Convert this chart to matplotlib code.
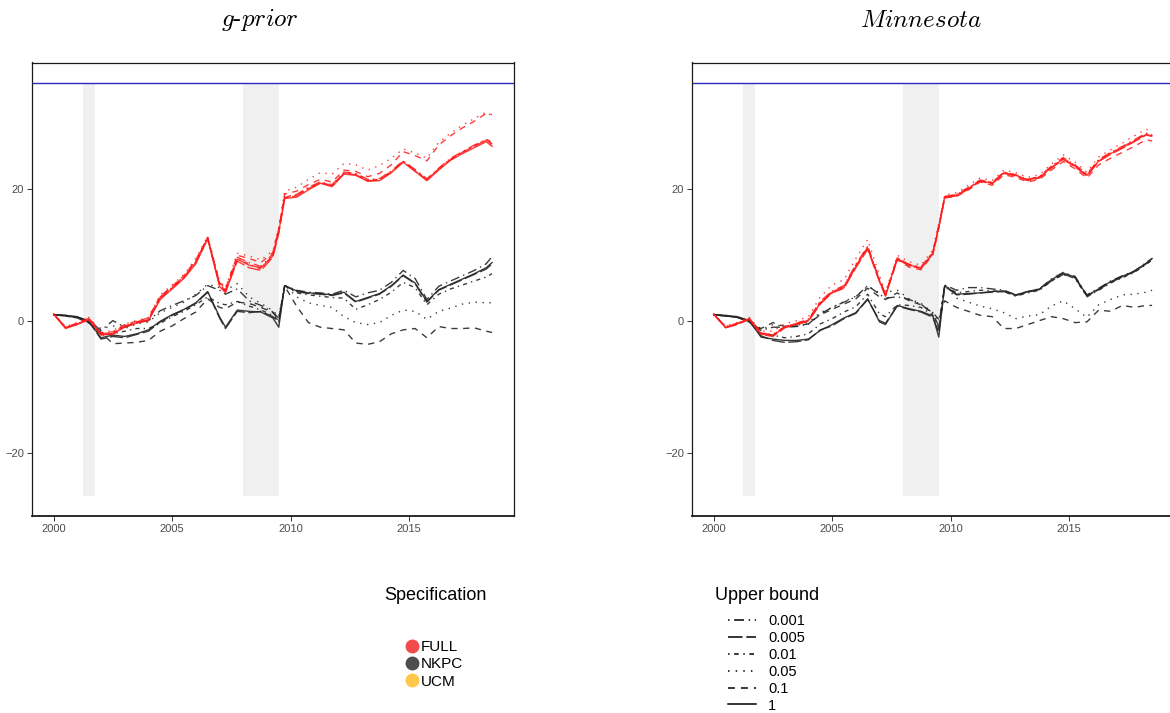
import matplotlib.pyplot as plt
from matplotlib.lines import Line2D

plt.rcParams['font.family'] = ['Liberation Sans', 'DejaVu Sans']
plt.rcParams['mathtext.fontset'] = 'cm'

# time grid (years)
quarters = [2000.0, 2000.5, 2001.0, 2001.5, 2002.0, 2002.5, 2003.0, 2003.5, 2004.0, 2004.5,
            2005.0, 2005.5, 2006.0, 2006.5, 2007.0, 2007.25, 2007.75, 2008.25, 2008.75, 2009.25,
            2009.5, 2009.75, 2010.25, 2010.75, 2011.25, 2011.75, 2012.25, 2012.75, 2013.25, 2013.75,
            2014.25, 2014.75, 2015.25, 2015.75, 2016.25, 2016.75, 2017.25, 2017.75, 2018.25, 2018.5]

bounds = ['0.001', '0.005', '0.01', '0.05', '0.1', '1']
specs = ['FULL', 'NKPC', 'UCM']
recessions = [(2001.25, 2001.75), (2008.0, 2009.5)]
shade_lo, shade_hi = -26.5, 36.0
ref_level = 36.0

# ---- g-prior, FULL ----
gp_full_0001 = [1.0, -1.0, -0.5, 0.3, -2.0, -1.8, -0.8, -0.2, 0.3, 3.6,
                5.0, 6.7, 9.0, 12.6, 5.6, 4.6, 9.6, 8.8, 8.2, 10.1,
                13.8, 18.8, 19.1, 20.2, 21.0, 20.6, 22.5, 22.3, 21.4, 21.5,
                22.7, 24.2, 22.9, 21.5, 23.1, 24.6, 25.6, 26.6, 27.4, 26.8]
gp_full_0005 = [1.0, -1.1, -0.4, 0.1, -2.1, -2.1, -0.9, -0.3, 0.1, 3.4,
                4.9, 6.5, 8.8, 12.5, 5.4, 4.4, 9.0, 8.0, 7.6, 9.6,
                13.2, 18.6, 18.9, 20.0, 20.9, 20.4, 22.3, 22.1, 21.2, 21.3,
                22.5, 24.1, 22.7, 21.3, 23.0, 24.4, 25.5, 26.4, 27.3, 26.7]
gp_full_001 = [1.0, -1.0, -0.6, 0.3, -2.0, -1.9, -0.8, -0.3, 0.2, 3.5,
               5.1, 6.6, 8.9, 12.3, 5.5, 4.5, 9.4, 8.6, 7.8, 9.9,
               13.6, 18.7, 19.0, 20.1, 20.9, 20.5, 22.4, 22.2, 21.3, 21.4,
               22.6, 24.1, 22.8, 21.4, 23.0, 24.5, 25.5, 26.5, 27.5, 27.0]
gp_full_005 = [1.0, -0.9, -0.3, 0.5, -1.8, -1.5, -0.5, 0.0, 0.5, 3.9,
               5.4, 7.0, 9.4, 12.8, 6.0, 5.0, 10.2, 9.8, 9.2, 10.6,
               14.2, 19.6, 20.2, 21.4, 22.4, 22.2, 23.8, 23.6, 22.8, 23.5,
               24.6, 26.0, 25.4, 24.6, 27.0, 28.4, 29.6, 30.6, 31.6, 31.0]
gp_full_01 = [1.0, -1.0, -0.4, 0.4, -1.9, -1.7, -0.6, -0.1, 0.4, 3.7,
              5.2, 6.8, 9.2, 12.6, 5.8, 4.8, 9.9, 9.4, 8.8, 10.3,
              13.9, 19.2, 19.6, 20.6, 21.4, 21.0, 22.8, 22.6, 21.8, 22.3,
              23.6, 25.6, 25.0, 24.2, 26.6, 28.0, 29.2, 30.2, 31.4, 31.2]
gp_full_1 = [1.0, -1.2, -0.6, 0.2, -2.2, -2.0, -1.0, -0.4, 0.0, 3.2,
             4.8, 6.4, 8.6, 12.4, 5.2, 4.2, 9.3, 8.4, 8.0, 9.8,
             13.5, 18.5, 18.7, 19.8, 20.8, 20.3, 22.2, 22.0, 21.1, 21.2,
             22.4, 24.0, 22.6, 21.2, 22.8, 24.3, 25.3, 26.2, 27.1, 26.4]

# ---- g-prior, NKPC ----
gp_nkpc_0001 = [0.9, 0.7, 0.5, 0.0, -1.5, 0.0, -1.0, -0.3, 0.0, 1.5,
                2.3, 3.0, 3.8, 5.3, 4.6, 4.0, 4.8, 3.0, 2.3, 1.3,
                0.3, 5.3, 4.6, 4.3, 4.2, 4.0, 4.6, 3.6, 4.2, 4.6,
                5.8, 7.6, 6.4, 3.2, 5.2, 6.0, 6.8, 7.6, 8.6, 9.7]
gp_nkpc_0005 = [0.9, 0.8, 0.5, -0.2, -2.8, -2.4, -2.6, -2.1, -1.6, -0.2,
                0.8, 1.6, 2.6, 4.3, 0.4, -1.2, 1.4, 1.2, 1.4, 0.6,
                -0.2, 5.3, 4.4, 4.1, 4.0, 3.8, 4.2, 2.8, 3.4, 4.0,
                5.2, 6.8, 5.6, 2.8, 4.6, 5.4, 6.2, 7.0, 7.8, 8.6]
gp_nkpc_001 = [0.9, 0.7, 0.4, -0.3, -2.2, -2.0, -1.6, -1.2, -1.2, -0.4,
               0.6, 1.4, 2.4, 3.6, 2.6, 2.4, 2.9, 2.2, 1.6, 0.8,
               0.0, 5.3, 4.2, 3.9, 3.7, 3.5, 3.4, 1.7, 2.4, 3.2,
               4.3, 5.8, 5.0, 2.4, 4.0, 4.8, 5.4, 6.0, 6.6, 7.1]
gp_nkpc_005 = [0.9, 0.8, 0.5, -0.1, -1.2, -0.8, -1.2, -0.5, -0.2, 1.2,
               2.0, 2.8, 4.0, 5.5, 5.0, 4.6, 5.6, 3.6, 2.6, 1.5,
               0.6, 5.4, 3.6, 2.7, 2.3, 2.0, 0.6, -0.3, -0.6, -0.3,
               0.8, 1.6, 1.4, 0.2, 1.4, 1.9, 2.5, 2.8, 2.7, 2.7]
gp_nkpc_01 = [0.9, 0.7, 0.4, -0.4, -1.8, -3.5, -3.4, -3.3, -3.0, -1.6,
              -0.8, 0.3, 1.3, 3.3, 2.0, 1.8, 2.8, 2.6, 2.0, 1.2,
              0.2, 5.2, 2.2, -0.3, -1.0, -1.2, -1.4, -3.4, -3.6, -3.2,
              -2.0, -1.4, -1.2, -2.6, -0.9, -1.2, -1.2, -1.1, -1.6, -1.8]
gp_nkpc_1 = [0.9, 0.8, 0.6, -0.2, -2.6, -2.2, -2.4, -2.0, -1.4, -0.1,
             0.9, 1.7, 2.7, 4.4, 0.6, -1.0, 1.6, 1.4, 1.3, 0.4,
             -1.0, 5.3, 4.5, 4.2, 4.1, 3.9, 4.3, 2.9, 3.5, 4.1,
             5.3, 6.9, 5.7, 2.9, 4.7, 5.5, 6.3, 7.1, 8.0, 8.8]

# ---- Minnesota, FULL ----
mn_full_0001 = [1.0, -0.9, -0.4, 0.4, -1.9, -2.1, -0.9, -0.4, 0.2, 2.9,
                4.5, 5.3, 8.5, 11.3, 6.2, 4.0, 9.5, 8.5, 8.1, 10.4,
                14.4, 18.8, 19.1, 20.2, 21.3, 20.9, 22.5, 22.1, 21.4, 21.8,
                23.4, 24.7, 23.6, 22.2, 24.4, 25.5, 26.4, 27.4, 28.4, 28.2]
mn_full_0005 = [1.0, -1.1, -0.6, 0.2, -2.1, -2.4, -1.1, -0.6, -0.1, 2.5,
                4.2, 4.9, 8.0, 10.8, 5.9, 3.7, 9.3, 8.3, 7.9, 10.1,
                14.0, 18.6, 18.9, 19.9, 21.1, 20.7, 22.3, 21.9, 21.2, 21.6,
                23.1, 24.4, 23.3, 21.9, 24.1, 25.2, 26.1, 27.1, 28.1, 27.9]
mn_full_001 = [1.0, -1.0, -0.5, 0.3, -1.9, -2.2, -0.9, -0.4, 0.1, 2.8,
               4.4, 5.2, 8.4, 11.2, 6.1, 3.9, 9.5, 8.5, 8.0, 10.3,
               14.3, 18.8, 19.1, 20.1, 21.3, 20.9, 22.5, 22.0, 21.4, 21.8,
               23.3, 24.6, 23.5, 22.1, 24.3, 25.4, 26.3, 27.3, 28.3, 28.1]
mn_full_005 = [1.0, -0.8, -0.3, 0.5, -1.6, -1.6, -0.5, 0.0, 0.6, 3.6,
               5.4, 6.2, 9.4, 12.3, 6.8, 4.3, 9.9, 8.9, 8.4, 10.7,
               14.7, 19.0, 19.4, 20.5, 21.6, 21.2, 22.8, 22.4, 21.7, 22.1,
               23.7, 25.1, 24.0, 22.5, 24.8, 25.9, 26.9, 28.0, 29.0, 28.7]
mn_full_01 = [1.0, -1.0, -0.5, 0.2, -2.0, -2.2, -1.0, -0.5, 0.0, 2.7,
              4.3, 5.1, 8.2, 11.1, 6.0, 3.8, 9.2, 8.1, 7.7, 10.0,
              14.0, 18.6, 18.8, 19.8, 21.0, 20.5, 22.1, 21.7, 21.0, 21.4,
              22.8, 24.1, 23.0, 21.6, 23.6, 24.6, 25.5, 26.4, 27.4, 27.2]
mn_full_1 = [1.0, -1.0, -0.5, 0.3, -2.0, -2.3, -1.0, -0.5, 0.0, 2.6,
             4.3, 5.0, 8.2, 11.0, 6.0, 3.8, 9.4, 8.4, 8.0, 10.2,
             14.2, 18.7, 19.0, 20.0, 21.2, 20.8, 22.4, 22.0, 21.3, 21.7,
             23.2, 24.5, 23.4, 22.0, 24.2, 25.3, 26.2, 27.2, 28.2, 28.0]

# ---- Minnesota, NKPC ----
mn_nkpc_0001 = [0.9, 0.7, 0.5, 0.0, -1.5, -1.0, -1.0, -0.9, -0.5, 1.0,
                2.0, 2.8, 3.6, 5.3, 4.0, 3.4, 3.6, 3.2, 2.5, 1.0,
                -0.8, 5.4, 4.6, 5.0, 5.0, 4.8, 4.6, 3.9, 4.4, 4.8,
                6.3, 7.3, 6.7, 3.9, 4.9, 6.0, 6.8, 7.5, 8.8, 9.4]
mn_nkpc_0005 = [0.9, 0.7, 0.5, -0.1, -2.3, -3.0, -3.3, -3.2, -2.9, -1.4,
                -0.8, 0.3, 1.1, 3.2, 0.0, -0.4, 2.2, 1.7, 1.3, 0.5,
                -1.8, 5.2, 3.9, 4.0, 4.2, 4.3, 4.4, 3.8, 4.3, 4.7,
                6.0, 7.0, 6.5, 3.7, 4.7, 5.8, 6.6, 7.4, 8.6, 9.3]
mn_nkpc_001 = [0.9, 0.7, 0.5, -0.1, -2.0, -2.2, -2.6, -2.4, -2.0, -0.5,
               0.3, 1.3, 2.1, 4.0, 1.0, 0.6, 2.4, 2.3, 2.0, 0.8,
               -1.2, 5.3, 4.2, 4.4, 4.6, 4.5, 4.4, 3.7, 4.2, 4.6,
               6.0, 7.0, 6.4, 3.6, 4.6, 5.7, 6.5, 7.3, 8.5, 9.2]
mn_nkpc_005 = [0.9, 0.8, 0.5, -0.1, -1.4, -0.6, -0.9, -0.7, -0.3, 1.2,
               2.0, 2.9, 3.7, 5.2, 4.2, 4.3, 4.6, 3.3, 2.6, 1.2,
               0.0, 5.2, 3.4, 2.8, 2.2, 1.8, 1.2, 0.3, 0.7, 0.9,
               2.2, 3.0, 1.8, 0.5, 2.4, 3.2, 3.9, 4.0, 4.3, 4.6]
mn_nkpc_01 = [0.9, 0.7, 0.5, -0.2, -1.2, -0.3, -0.9, -0.8, -0.5, 0.9,
              1.7, 2.5, 3.3, 4.9, 3.6, 3.2, 4.2, 3.0, 2.4, 1.2,
              0.2, 3.0, 2.0, 1.4, 0.8, 0.6, -1.2, -1.2, -0.6, 0.0,
              0.6, 0.3, -0.3, -0.2, 1.6, 1.4, 2.3, 2.0, 2.3, 2.3]
mn_nkpc_1 = [0.9, 0.8, 0.6, 0.0, -2.5, -2.8, -3.0, -3.0, -2.8, -1.5,
             -0.6, 0.4, 1.2, 3.3, -0.2, -0.6, 2.3, 1.8, 1.4, 0.7,
             -2.5, 5.3, 4.0, 4.1, 4.2, 4.4, 4.5, 3.9, 4.4, 4.8,
             6.2, 7.2, 6.6, 3.8, 4.8, 5.9, 6.7, 7.5, 8.7, 9.4]

panels = [
    ('$g\\text{-}prior$',
     [gp_full_0001, gp_full_0005, gp_full_001, gp_full_005, gp_full_01, gp_full_1],
     [gp_nkpc_0001, gp_nkpc_0005, gp_nkpc_001, gp_nkpc_005, gp_nkpc_01, gp_nkpc_1]),
    ('$Minnesota$',
     [mn_full_0001, mn_full_0005, mn_full_001, mn_full_005, mn_full_01, mn_full_1],
     [mn_nkpc_0001, mn_nkpc_0005, mn_nkpc_001, mn_nkpc_005, mn_nkpc_01, mn_nkpc_1]),
]

# linetypes, one per upper bound
dash_styles = [(0, (1, 3, 6.5, 3)), (0, (9.5, 2.5)), (0, (1, 3, 3, 3)),
               (0, (1, 4)), (0, (4.5, 4)), '-']
spec_colors = ['#F24B4B', '#4D4D4D', '#FFC84A']
line_red = '#FF1A1A'
line_black = '#262626'

fig = plt.figure(figsize=(11.7, 7.13), dpi=100)
ax_left = [31.7 / 1170, 691.7 / 1170]
title_x = [260 / 1170, 921 / 1170]
ax_w = 482.3 / 1170
ax_b = 1 - 516 / 713
ax_h = 453.5 / 713

for i, (title, full_lines, nkpc_lines) in enumerate(panels):
    ax = fig.add_axes([ax_left[i], ax_b, ax_w, ax_h])
    for (r0, r1) in recessions:
        ax.fill_between([r0, r1], shade_lo, shade_hi, color='#F0F0F0', lw=0, zorder=0)
    ax.axhline(ref_level, color='#2A2AC0', lw=1.0, zorder=1)
    for ys, ls in zip(nkpc_lines, dash_styles):
        ax.plot(quarters, ys, color=line_black, lw=1.0, ls=ls, alpha=0.9, zorder=2)
    for ys, ls in zip(full_lines, dash_styles):
        ax.plot(quarters, ys, color=line_red, lw=1.0, ls=ls, alpha=0.85, zorder=3)
    ax.set_xlim(1999.075, 2019.425)
    ax.set_ylim(-29.6, 39.1)
    ax.set_xticks([2000, 2005, 2010, 2015])
    ax.set_yticks([-20, 0, 20])
    ax.tick_params(length=3.5, width=0.7, pad=2, labelsize=8, labelcolor='#4D4D4D', color='#333333')
    for s in ax.spines.values():
        s.set_linewidth(0.9)
        s.set_color('#1A1A1A')
    ax.spines['bottom'].set_linewidth(1.3)
    fig.text(title_x[i], 1 - 20 / 713, title, fontsize=18, ha='center', va='center')

# legend: Specification
fig.text(384 / 1170, 1 - 596 / 713, 'Specification', fontsize=13, ha='left', va='center')
spec_handles = [Line2D([], [], ls='', marker='o', markersize=9, color=c) for c in spec_colors]
fig.legend(spec_handles, specs, loc='upper left', bbox_to_anchor=(404 / 1170, 1 - 640 / 713),
           frameon=False, fontsize=11, borderpad=0, borderaxespad=0, handlelength=1.0,
           handletextpad=0.1, labelspacing=0.22)

# legend: Upper bound
fig.text(715 / 1170, 1 - 596 / 713, 'Upper bound', fontsize=13, ha='left', va='center')
ub_handles = [Line2D([], [], color='black', lw=1.1, ls=ls) for ls in dash_styles]
fig.legend(ub_handles, bounds, loc='upper left', bbox_to_anchor=(728 / 1170, 1 - 614 / 713),
           frameon=False, fontsize=10.5, borderpad=0, borderaxespad=0, handlelength=1.9,
           handletextpad=0.85, labelspacing=0.2)

fig.savefig('out.png', dpi=100)
